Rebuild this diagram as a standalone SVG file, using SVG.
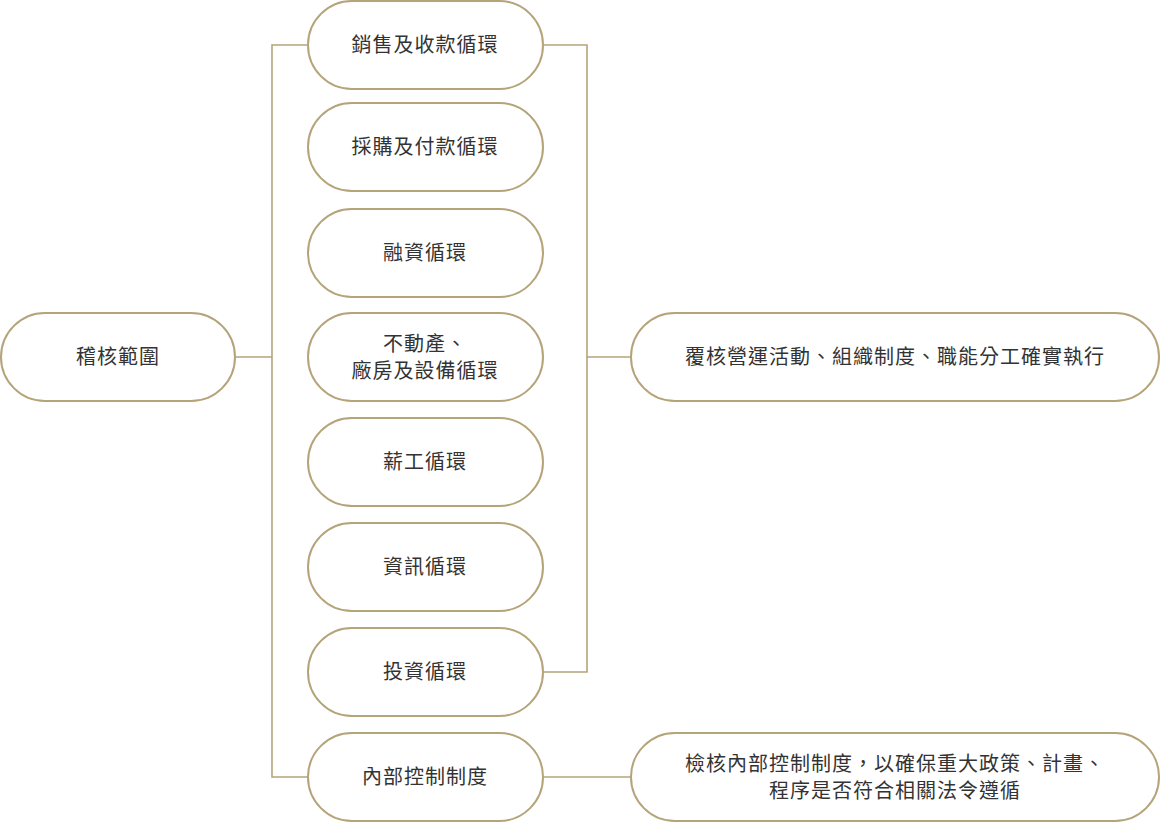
<svg xmlns="http://www.w3.org/2000/svg" width="1160" height="822" viewBox="0 0 1160 822">
<style>
.n{fill:#fff;stroke:#b5a47a;stroke-width:2}
.c{fill:none;stroke:#b5a47a;stroke-width:1.6}
text{font-family:"Noto Sans CJK TC","Noto Sans CJK SC",sans-serif;font-size:20px;fill:#333;text-anchor:middle;letter-spacing:1px}
</style>
<rect width="1160" height="822" fill="#fff"/>
<g id="connectors">
<path class="c" d="M235 357H272M308 45H272V777H308"/>
<path class="c" d="M543 45H587V672H543M587 357H631"/>
<path class="c" d="M543 777H631"/>
</g>
<g id="n0"><rect class="n" x="1" y="313" width="234" height="88" rx="44"/><text x="118" y="364">稽核範圍</text></g>
<g id="n1"><rect class="n" x="308" y="1" width="235" height="88" rx="44"/><text x="425" y="52">銷售及收款循環</text></g>
<g id="n2"><rect class="n" x="308" y="103" width="235" height="88" rx="44"/><text x="425" y="154">採購及付款循環</text></g>
<g id="n3"><rect class="n" x="308" y="209" width="235" height="88" rx="44"/><text x="425" y="260">融資循環</text></g>
<g id="n4"><rect class="n" x="308" y="313" width="235" height="88" rx="44"/><text x="425" y="351">不動產、</text><text x="425" y="378">廠房及設備循環</text></g>
<g id="n5"><rect class="n" x="308" y="418" width="235" height="88" rx="44"/><text x="425" y="469">薪工循環</text></g>
<g id="n6"><rect class="n" x="308" y="523" width="235" height="88" rx="44"/><text x="425" y="574">資訊循環</text></g>
<g id="n7"><rect class="n" x="308" y="628" width="235" height="88" rx="44"/><text x="425" y="679">投資循環</text></g>
<g id="n8"><rect class="n" x="308" y="733" width="235" height="88" rx="44"/><text x="425" y="784">內部控制制度</text></g>
<g id="r1"><rect class="n" x="631" y="313" width="528" height="88" rx="44"/><text x="895" y="364">覆核營運活動、組織制度、職能分工確實執行</text></g>
<g id="r2"><rect class="n" x="631" y="733" width="528" height="88" rx="44"/><text x="895" y="771">檢核內部控制制度，以確保重大政策、計畫、</text><text x="895" y="798">程序是否符合相關法令遵循</text></g>
</svg>
